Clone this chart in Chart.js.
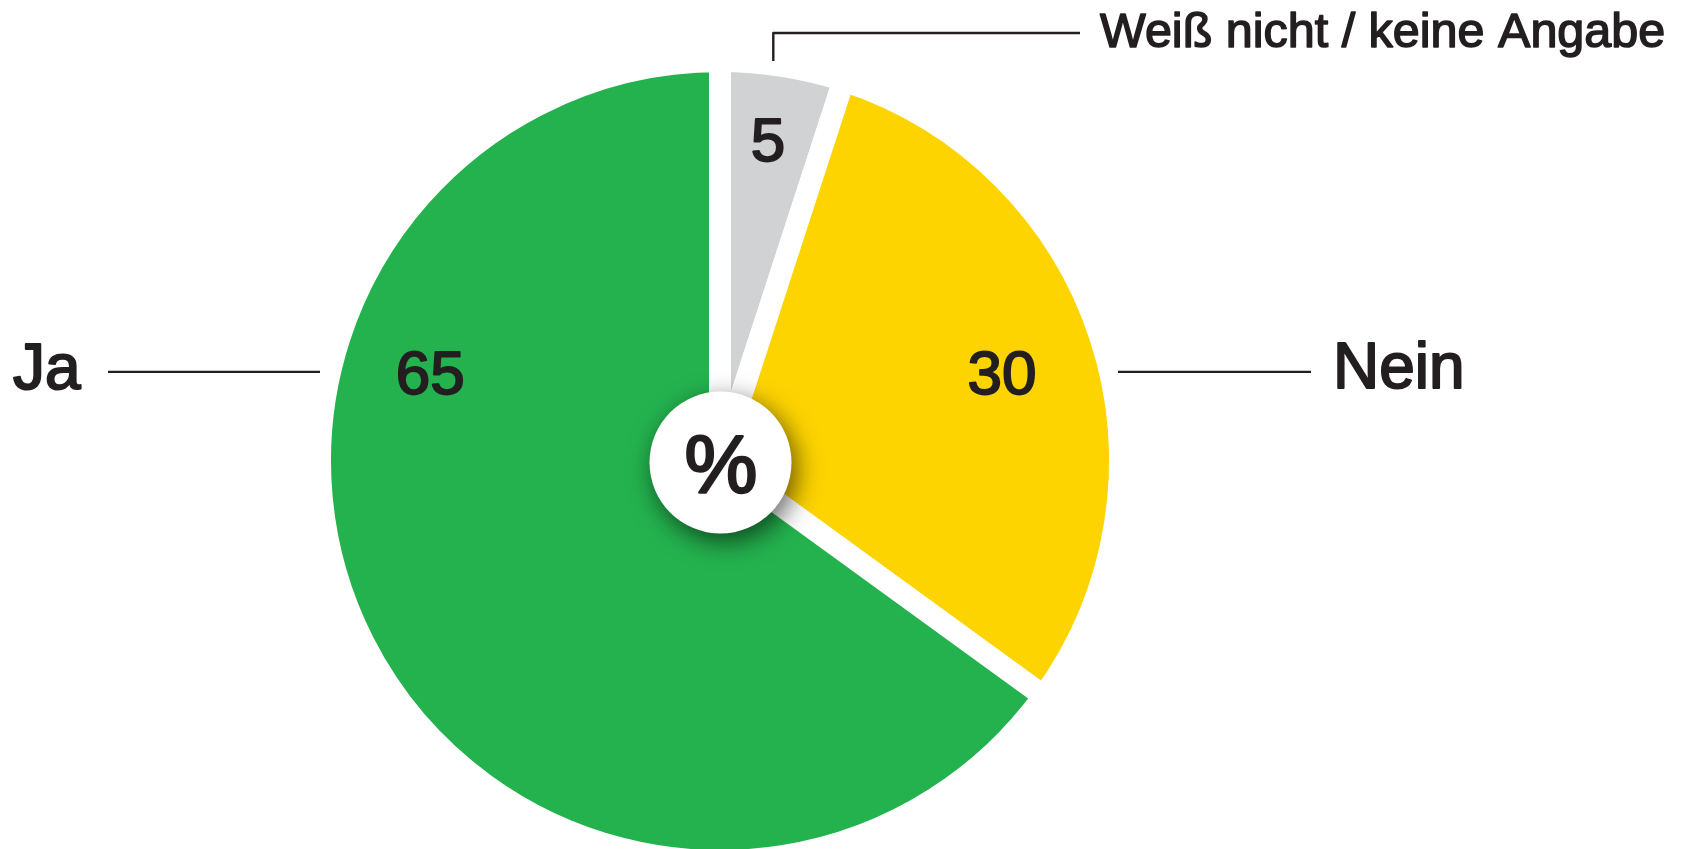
<!DOCTYPE html>
<html>
<head>
<meta charset="utf-8">
<script src="https://cdn.jsdelivr.net/npm/chart.js@4/dist/chart.umd.min.js"></script>
<style>
  html, body { margin: 0; padding: 0; background: #fff; }
  #wrap { width: 1688px; height: 849px; position: relative; }
</style>
</head>
<body>
<div id="wrap"><canvas id="pie-chart"></canvas></div>
<script>
var CATEGORIES = ['Weiß nicht / keine Angabe', 'Nein', 'Ja'];
var VALUES = [5, 30, 65];
var COLORS = ['#d1d2d4', '#fdd400', '#24b24e'];

var INK = '#231f20';
var FONT = '"Liberation Sans", Arial, sans-serif';
var GAP = 22;

function medText(ctx, text, x, y, size) {
  ctx.font = size + 'px ' + FONT;
  ctx.fillStyle = INK;
  ctx.strokeStyle = INK;
  ctx.lineWidth = size / 32;
  ctx.lineJoin = 'round';
  ctx.fillText(text, x, y);
  ctx.strokeText(text, x, y);
}

function line(ctx, pts) {
  ctx.beginPath();
  ctx.moveTo(pts[0][0], pts[0][1]);
  for (var i = 1; i < pts.length; i++) ctx.lineTo(pts[i][0], pts[i][1]);
  ctx.strokeStyle = INK;
  ctx.lineWidth = 2.4;
  ctx.stroke();
}

// labels, leader lines and the "%" badge in the middle
var labelPlugin = {
  id: 'pieLabels',
  afterDatasetsDraw: function (chart) {
    var ctx = chart.ctx;
    var arcs = chart.getDatasetMeta(0).data;
    var p = arcs[0].getProps(['x', 'y', 'outerRadius'], true);
    var cx = p.x, cy = p.y, R = p.outerRadius - GAP / 2;
    var rowY = cy - 0.229 * R;

    ctx.save();
    ctx.textBaseline = 'alphabetic';

    arcs.forEach(function (arc, i) {
      var a = arc.getProps(['startAngle', 'endAngle'], true);
      var mid = (a.startAngle + a.endAngle) / 2;
      var label = CATEGORIES[i];
      var val = String(VALUES[i]);
      ctx.textAlign = 'center';
      if (i === 0) {
        // small slice on top: value on the bisector, label above to the right
        medText(ctx, val, cx + Math.cos(mid) * 0.838 * R - 3, cy + Math.sin(mid) * 0.838 * R + 22, 62);
        var lx = cx + 0.137 * R;
        line(ctx, [[lx, cy - R - 11], [lx, 33], [1080, 33]]);
        ctx.textAlign = 'left';
        medText(ctx, label, 1100, 47, 48.5);
      } else if (Math.cos(mid) > 0) {
        medText(ctx, val, cx + 0.725 * R, rowY + 22, 62);
        line(ctx, [[cx + R + 9, rowY], [1311, rowY]]);
        ctx.textAlign = 'left';
        medText(ctx, label, 1333, rowY + 16, 64);
      } else {
        medText(ctx, val, cx - 0.745 * R, rowY + 22, 62);
        line(ctx, [[108, rowY], [cx - R - 11, rowY]]);
        ctx.textAlign = 'left';
        medText(ctx, label, 13, rowY + 17, 64);
      }
    });

    // centre badge
    ctx.save();
    ctx.shadowColor = 'rgba(0,0,0,0.6)';
    ctx.shadowBlur = 26;
    ctx.shadowOffsetX = 5;
    ctx.shadowOffsetY = 8;
    ctx.beginPath();
    ctx.arc(cx + 0.5, cy + 1.5, 71, 0, Math.PI * 2);
    ctx.fillStyle = '#fff';
    ctx.fill();
    ctx.restore();
    ctx.textAlign = 'center';
    medText(ctx, '%', cx + 1, cy + 32, 82);
    ctx.restore();
  }
};

new Chart(document.getElementById('pie-chart').getContext('2d'), {
  type: 'pie',
  data: {
    labels: CATEGORIES,
    datasets: [{
      data: VALUES,
      backgroundColor: COLORS,
      borderColor: '#ffffff',
      borderWidth: GAP,
      radius: 389 + GAP / 2,
    }],
  },
  options: {
    responsive: true,
    maintainAspectRatio: false,
    animation: false,
    layout: { padding: { left: 320, right: 568, top: 73, bottom: 0 } },
    plugins: {
      legend: { display: false },
      tooltip: { enabled: false },
    },
  },
  plugins: [labelPlugin],
});
</script>
</body>
</html>
